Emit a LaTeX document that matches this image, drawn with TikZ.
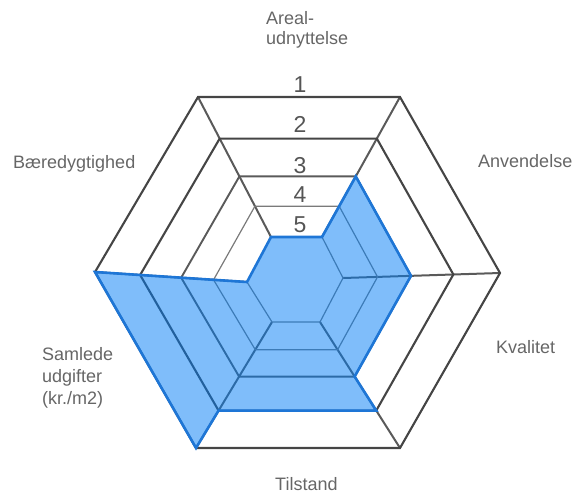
\documentclass[tikz,border=0pt]{standalone}
\usepackage{fontspec}
\setmainfont{Liberation Sans}
\usetikzlibrary{calc}
\definecolor{gridA}{HTML}{454545}
\definecolor{gridB}{HTML}{5A5A5A}
\definecolor{gridC}{HTML}{7A7A7A}
\definecolor{labc}{HTML}{666666}
\definecolor{numc}{HTML}{555555}
\definecolor{bluefill}{RGB}{0,124,245}
\definecolor{blueedge}{RGB}{30,118,214}
\tikzset{
  ringthick/.style={draw=gridA, line width=2.1pt, line join=miter},
  ringmid/.style={draw=gridB, line width=1.9pt, line join=miter},
  ringthin/.style={draw=gridC, line width=1.2pt, line join=miter},
  spoke/.style={draw=gridB, line width=2pt},
  lab/.style={text=labc, font=\fontsize{18}{20}\selectfont, inner sep=0pt},
  num/.style={text=numc, font=\fontsize{23}{25}\selectfont, inner sep=0pt, anchor=base},
  datafill/.style={fill=bluefill, fill opacity=0.5},
  dataedge/.style={draw=blueedge, line width=2.6pt, line join=miter}
}
\begin{document}
\begin{tikzpicture}[x=1pt,y=-1pt]
\useasboundingbox (0,0) rectangle (577,495);
% outer vertices
\coordinate (oT1) at (198,97);
\coordinate (oT2) at (400,97);
\coordinate (oR)  at (500,273);
\coordinate (oB2) at (400,448);
\coordinate (oB1) at (196,448);
\coordinate (oL)  at (95,272);
% inner vertices
\coordinate (iT1) at (271,237);
\coordinate (iT2) at (322,237);
\coordinate (iR)  at (343,278);
\coordinate (iB2) at (320,322);
\coordinate (iB1) at (272,322);
\coordinate (iL)  at (247,282);
% ring vertices
\foreach \n/\t in {1/0,2/0.297,3/0.567,4/0.78,5/1}{
  \foreach \v in {T1,T2,R,B2,B1,L}{
    \coordinate (r\n\v) at ($(o\v)!\t!(i\v)$);
  }
}
% spokes
\foreach \v in {T1,T2,R,B2,B1,L}{
  \draw[spoke] (o\v) -- (i\v);
}
% rings
\draw[ringthick] (r1T1) -- (r1T2) -- (r1R) -- (r1B2) -- (r1B1) -- (r1L) -- cycle;
\draw[ringthick] (r2T1) -- (r2T2) -- (r2R) -- (r2B2) -- (r2B1) -- (r2L) -- cycle;
\draw[ringmid]   (r3T1) -- (r3T2) -- (r3R) -- (r3B2) -- (r3B1) -- (r3L) -- cycle;
\draw[ringthin]  (r4T1) -- (r4T2) -- (r4R) -- (r4B2) -- (r4B1) -- (r4L) -- cycle;
\draw[ringthin]  (r5T1) -- (r5T2) -- (r5R) -- (r5B2) -- (r5B1) -- (r5L) -- cycle;
% data polygon
\path[datafill] (r5T1) -- (r5T2) -- (r3T2) -- (r3R) -- (r3B2) -- (r2B2) -- (r2B1) -- (r1B1) -- (r1L) -- (r5L) -- cycle;
\draw[dataedge] (r5T1) -- (r5T2) -- (r3T2) -- (r3R) -- (r3B2) -- (r2B2) -- (r2B1) -- (r1B1) -- (r1L) -- (r5L) -- cycle;
% level numbers
\node[num] (n1) at (300,92) {1};
\node[num] (n2) at (300,132) {2};
\node[num] (n3) at (300,173) {3};
\node[num] (n4) at (300,202) {4};
\node[num] (n5) at (300,232) {5};
% category labels
\node[lab, anchor=north west, align=left, font=\fontsize{18}{20}\selectfont] (areal) at (266,11) {Areal-\\udnyttelse};
\node[lab, anchor=base west] (anv) at (478,167) {Anvendelse};
\node[lab, anchor=base west] (kval) at (496,353) {Kvalitet};
\node[lab, anchor=base west] (tilst) at (275,490) {Tilstand};
\node[lab, anchor=north west, align=left, font=\fontsize{18}{22}\selectfont] (saml) at (42,347) {Samlede\\udgifter\\(kr./m2)};
\node[lab, anchor=base west] (baer) at (13,168) {Bæredygtighed};
\end{tikzpicture}
\end{document}
